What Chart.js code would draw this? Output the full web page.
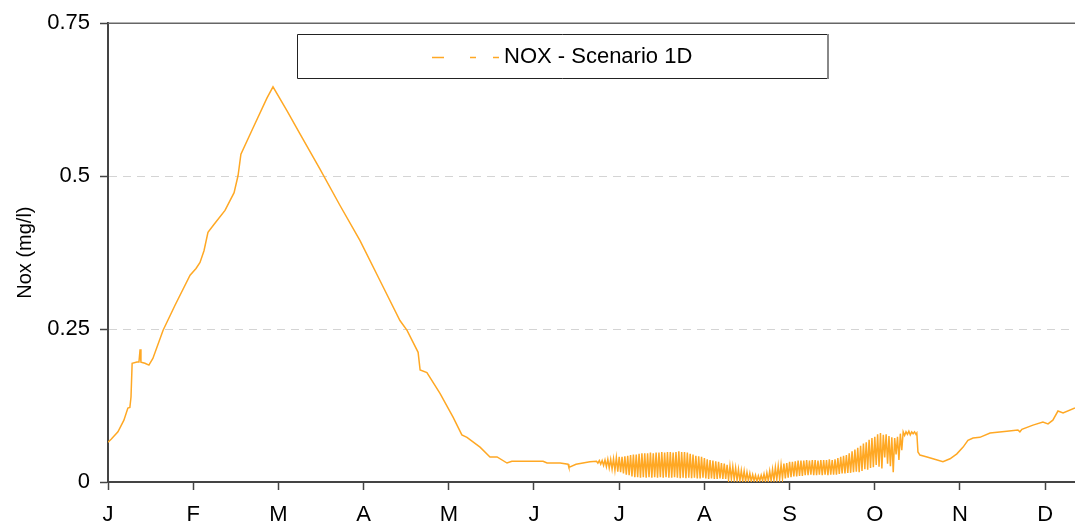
<!DOCTYPE html>
<html>
<head>
<meta charset="utf-8">
<script src="https://cdn.jsdelivr.net/npm/chart.js@4.4.1/dist/chart.umd.min.js"></script>
<style>
  html, body { margin: 0; padding: 0; background: #fff; }
  #wrap { width: 1075px; height: 529px; position: relative; }
</style>
</head>
<body>
<div id="wrap"><canvas id="noxChart"></canvas></div>
<script>
// month labels and where they sit on the day axis
const monthLabels = ["J", "F", "M", "A", "M", "J", "J", "A", "S", "O", "N", "D"];
const monthTickDays = [0, 30, 60, 90, 120, 150, 180, 210, 240, 270, 300, 330];
const yTickValues = [0, 0.25, 0.5, 0.75];
const yTickLabels = ["0", "0.25", "0.5", "0.75"];

// Jan - Jun: smooth part of the curve
const earlyDays = [0, 1.1, 3.5, 5.6, 7.0, 7.7, 8.1, 8.5, 10.2, 10.9, 11.3, 11.6, 13.0, 14.4, 15.8, 19.4, 23.6, 28.9, 31.0, 32.4,
  33.8, 35.2, 37.3, 41.2, 44.4, 45.8, 46.8, 51.1, 56.0, 58.1, 63.0, 67.6, 74.6, 81.7, 88.7, 95.8, 102.8, 105.3, 109.2, 109.9,
  112.3, 116.9, 121.5, 124.6, 126.4, 131.0, 134.5, 137.0, 140.5, 142.2, 153.2, 154.6, 159.2, 162.0, 162.3, 164.8, 169.7];
const earlyNox = [0.065, 0.070, 0.082, 0.101, 0.121, 0.122, 0.139, 0.194, 0.196, 0.196, 0.217, 0.196, 0.194, 0.191, 0.202, 0.248, 0.289, 0.338, 0.349, 0.359,
  0.378, 0.408, 0.421, 0.444, 0.473, 0.501, 0.536, 0.579, 0.628, 0.646, 0.607, 0.569, 0.512, 0.452, 0.395, 0.329, 0.264, 0.248, 0.212, 0.183,
  0.179, 0.145, 0.106, 0.077, 0.073, 0.057, 0.041, 0.041, 0.031, 0.034, 0.034, 0.031, 0.031, 0.029, 0.024, 0.029, 0.033];

// summer: daily swing, day max / day min from day 172 on
const swingStartDay = 172;
const swingHigh = [0.034, 0.035, 0.035, 0.036, 0.037, 0.037, 0.038, 0.040, 0.041, 0.041,
  0.042, 0.043, 0.044, 0.045, 0.045, 0.046, 0.047, 0.047, 0.047, 0.048,
  0.047, 0.048, 0.048, 0.049, 0.048, 0.049, 0.049, 0.048, 0.049, 0.050,
  0.049, 0.049, 0.048, 0.046, 0.045, 0.043, 0.042, 0.041, 0.039, 0.037,
  0.036, 0.035, 0.034, 0.033, 0.031, 0.030, 0.028, 0.026, 0.025, 0.023,
  0.021, 0.019, 0.018, 0.016, 0.014, 0.012, 0.011, 0.010, 0.011, 0.013,
  0.015, 0.018, 0.021, 0.024, 0.026, 0.028, 0.030, 0.031, 0.033, 0.033,
  0.034, 0.035, 0.035, 0.035, 0.036, 0.035, 0.036, 0.036, 0.035, 0.036,
  0.036, 0.036, 0.037, 0.036, 0.037, 0.039, 0.041, 0.043, 0.044, 0.047,
  0.050, 0.053, 0.056, 0.059, 0.063, 0.065, 0.069, 0.072, 0.074, 0.078,
  0.080, 0.077, 0.078, 0.075, 0.073, 0.072, 0.074, 0.079, 0.082, 0.082,
  0.083, 0.082, 0.082];
const swingLow = [0.031, 0.029, 0.027, 0.025, 0.023, 0.021, 0.019, 0.017, 0.016, 0.014,
  0.012, 0.011, 0.009, 0.008, 0.008, 0.007, 0.008, 0.007, 0.008, 0.007,
  0.008, 0.007, 0.008, 0.007, 0.008, 0.007, 0.007, 0.008, 0.007, 0.006,
  0.007, 0.006, 0.007, 0.006, 0.007, 0.006, 0.006, 0.007, 0.006, 0.005,
  0.006, 0.005, 0.005, 0.006, 0.005, 0.005, 0.004, 0.005, 0.004, 0.003,
  0.002, 0.002, 0.001, 0.002, 0.001, 0.002, 0.001, 0.002, 0.002, 0.001,
  0.002, 0.002, 0.003, 0.004, 0.005, 0.006, 0.006, 0.007, 0.008, 0.009,
  0.009, 0.010, 0.010, 0.011, 0.011, 0.012, 0.011, 0.011, 0.012, 0.011,
  0.012, 0.011, 0.012, 0.012, 0.012, 0.013, 0.014, 0.014, 0.015, 0.015,
  0.016, 0.017, 0.016, 0.018, 0.021, 0.020, 0.023, 0.024, 0.028, 0.025,
  0.022, 0.040, 0.030, 0.026, 0.016, 0.045, 0.036, 0.052, 0.076, 0.078,
  0.077, 0.079, 0.078];

// Oct - Dec
const lateDays = [284.8, 285.2, 285.9, 288.4, 290.5, 294.0, 296.5, 298.9, 301.1, 302.8, 304.6, 307.0,
  310.6, 316.5, 320.4, 321.1, 321.8, 325.7, 329.2, 331.0, 332.7, 334.5, 336.3, 340.5];
const lateNox = [0.080, 0.049, 0.044, 0.041, 0.038, 0.033, 0.038, 0.046, 0.057, 0.068, 0.072, 0.073,
  0.080, 0.083, 0.085, 0.082, 0.086, 0.093, 0.098, 0.095, 0.101, 0.116, 0.113, 0.121];

const seriesLabel = "NOX - Scenario 1D";
const lineColor = "#FFA824";

const points = [];
earlyDays.forEach((d, i) => points.push({ x: d, y: earlyNox[i] }));
swingHigh.forEach((v, i) => {
  points.push({ x: swingStartDay + i, y: v });
  points.push({ x: swingStartDay + i + 0.5, y: swingLow[i] });
});
lateDays.forEach((d, i) => points.push({ x: d, y: lateNox[i] }));

const fontFamily = '"Liberation Sans", Arial, sans-serif';

// excel style boxed legend + top frame line
const frameAndLegend = {
  id: "frameAndLegend",
  afterDraw(chart) {
    const { ctx, chartArea } = chart;
    ctx.save();
    ctx.strokeStyle = "#666";
    ctx.lineWidth = 1.5;
    ctx.beginPath();
    ctx.moveTo(chartArea.left, chartArea.top);
    ctx.lineTo(chartArea.right, chartArea.top);
    ctx.stroke();

    // legend box
    ctx.fillStyle = "#fff";
    ctx.fillRect(297, 34, 532, 45);
    ctx.strokeStyle = "#222";
    ctx.lineWidth = 1;
    ctx.beginPath();
    ctx.moveTo(828, 34.5);
    ctx.lineTo(297.5, 34.5);
    ctx.lineTo(297.5, 78.5);
    ctx.lineTo(828, 78.5);
    ctx.stroke();
    ctx.strokeStyle = "#888";
    ctx.lineWidth = 2;
    ctx.beginPath();
    ctx.moveTo(828, 34);
    ctx.lineTo(828, 79);
    ctx.stroke();

    ctx.strokeStyle = lineColor;
    ctx.lineWidth = 1.5;
    ctx.setLineDash([12, 26, 6, 17, 6]);
    ctx.beginPath();
    ctx.moveTo(432, 57.5);
    ctx.lineTo(500, 57.5);
    ctx.stroke();
    ctx.setLineDash([]);

    ctx.fillStyle = "#000";
    ctx.font = "22px " + fontFamily;
    ctx.textBaseline = "middle";
    ctx.textAlign = "left";
    ctx.fillText(seriesLabel, 504, 57);
    ctx.restore();
  },
};

const tickFont = { family: fontFamily, size: 22 };

new Chart(document.getElementById("noxChart"), {
  type: "line",
  data: {
    datasets: [
      {
        label: seriesLabel,
        data: points,
        borderColor: lineColor,
        backgroundColor: lineColor,
        borderWidth: 1.5,
        pointRadius: 0,
        tension: 0,
        fill: false,
      },
    ],
  },
  options: {
    responsive: true,
    maintainAspectRatio: false,
    animation: false,
    devicePixelRatio: 1,
    layout: { padding: { top: 22, right: 0, left: 0, bottom: 0 } },
    plugins: {
      legend: { display: false },
      tooltip: { enabled: false },
    },
    scales: {
      x: {
        type: "linear",
        min: 0,
        max: 340.5,
        afterBuildTicks: (axis) => {
          axis.ticks = monthTickDays.map((v) => ({ value: v }));
        },
        afterFit: (axis) => {
          axis.height = 47;
        },
        ticks: {
          autoSkip: false,
          maxRotation: 0,
          padding: 12,
          color: "#000",
          font: tickFont,
          callback: (value, index) => monthLabels[index],
        },
        grid: {
          drawOnChartArea: false,
          drawTicks: true,
          tickLength: 8,
          tickColor: "#444",
          tickWidth: 1.5,
        },
        border: { color: "#444", width: 2 },
      },
      y: {
        min: 0,
        max: 0.75,
        afterBuildTicks: (axis) => {
          axis.ticks = yTickValues.map((v) => ({ value: v }));
        },
        afterFit: (axis) => {
          axis.width = 108;
        },
        ticks: {
          padding: 10,
          color: "#000",
          font: tickFont,
          callback: (value, index) => yTickLabels[index],
        },
        grid: {
          color: (ctx) => (ctx.tick && (ctx.tick.value === 0.25 || ctx.tick.value === 0.5) ? "#d4d4d4" : "rgba(0,0,0,0)"),
          lineWidth: 1,
          drawTicks: true,
          tickLength: 8,
          tickColor: "#444",
          tickWidth: 1.5,
          tickBorderDash: [],
        },
        border: { color: "#444", width: 2, dash: [8, 6] },
        title: {
          display: true,
          text: "Nox (mg/l)",
          color: "#000",
          font: { family: fontFamily, size: 20 },
          padding: { top: 13, bottom: 0 },
        },
      },
    },
  },
  plugins: [frameAndLegend],
});
</script>
</body>
</html>
